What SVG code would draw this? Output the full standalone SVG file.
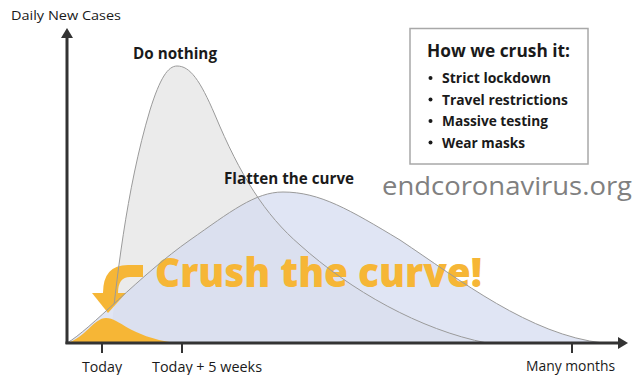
<svg xmlns="http://www.w3.org/2000/svg" width="633" height="375" viewBox="0 0 633 375">
<style>
  .lbl{font-family:"Open Sans","Noto Sans","Liberation Sans",sans-serif;fill:#1a1a1a}
  .b{font-weight:700}
  .ax{stroke:#333;stroke-width:3;fill:none}
  .tick{stroke:#333;stroke-width:2}
  .line{fill:none;stroke:#9a9a9a;stroke-width:1}
</style>
<defs>
  <mask id="hideLeft">
    <rect width="633" height="375" fill="#fff"/>
    <path d="M67,343 C90,330 140,275 190,240 L190,344 L67,344 Z" fill="#000"/>
  </mask>
</defs>
<rect width="633" height="375" fill="#ffffff"/>
<g id="curves">
  <path id="donothing-fill" d="M110,343 C116,285 126,190 150,110 C160,78 168,66 177,66 C190,66 200,80 215,115 C240,175 265,215 300,245 C350,290 420,330 487,343 Z" fill="#ebebeb"/>
  <path id="flatten-fill" d="M67,343 C90,330 140,275 190,240 C230,212 255,192 283,192 C320,192 350,210 400,240 C460,280 530,335 603,343 Z" fill="#d5dcf0" fill-opacity="0.75"/>
  <path id="crush-fill" d="M67,343 C85,338 94,318 106,318 C120,318 128,336 175,343 Z" fill="#f6b636"/>
</g>
<g id="crush-arrow" fill="#f6b636">
  <path d="M143,265 L128,265 Q103,265 103,293 L118,293 Q118,277 130,277 L143,277 Z"/>
  <path d="M92,293 L126,293 L108,313 Z"/>
</g>
<g id="crush-label">
  <text x="155" y="287" font-family="'Open Sans','Noto Sans','Liberation Sans',sans-serif" font-weight="800" font-size="41" fill="#f6b636" textLength="327" lengthAdjust="spacingAndGlyphs">Crush the curve!</text>
</g>
<g id="curve-lines">
  <path class="line" mask="url(#hideLeft)" d="M110,343 C116,285 126,190 150,110 C160,78 168,66 177,66 C190,66 200,80 215,115 C240,175 265,215 300,245 C350,290 420,330 487,343"/>
  <path class="line" d="M67,343 C90,330 140,275 190,240 C230,212 255,192 283,192 C320,192 350,210 400,240 C460,280 530,335 603,343"/>
</g>
<g id="connectors">
  <line class="ax" x1="67" y1="36" x2="67" y2="344"/>
  <line class="ax" x1="65.5" y1="343" x2="619" y2="343"/>
  <polygon points="67,28 61,38 73,38" fill="#333"/>
  <polygon points="628,343 618,337 618,349" fill="#333"/>
  <line class="tick" x1="102" y1="343" x2="102" y2="353"/>
  <line class="tick" x1="182" y1="343" x2="182" y2="353"/>
  <line class="tick" x1="572" y1="343" x2="572" y2="353"/>
</g>
<g id="axis-labels">
  <text class="lbl" x="11" y="20" font-size="13.5" textLength="110" lengthAdjust="spacingAndGlyphs">Daily New Cases</text>
  <text class="lbl" x="82" y="372" font-size="14" textLength="40" lengthAdjust="spacingAndGlyphs">Today</text>
  <text class="lbl" x="152" y="372" font-size="14" textLength="110" lengthAdjust="spacingAndGlyphs">Today + 5 weeks</text>
  <text class="lbl" x="526" y="371" font-size="14" textLength="89" lengthAdjust="spacingAndGlyphs">Many months</text>
</g>
<g id="do-nothing-label">
  <text class="lbl b" x="133" y="59" font-size="15.5" textLength="84" lengthAdjust="spacingAndGlyphs">Do nothing</text>
</g>
<g id="flatten-label">
  <text class="lbl b" x="224" y="184" font-size="15.5" textLength="130" lengthAdjust="spacingAndGlyphs">Flatten the curve</text>
</g>
<g id="how-box">
  <rect x="410" y="28.5" width="178" height="135.5" fill="#ffffff" stroke="#a8a8a8" stroke-width="1.5"/>
  <text class="lbl b" x="427" y="57" font-size="18.5" textLength="143" lengthAdjust="spacingAndGlyphs">How we crush it:</text>
  <g fill="#1a1a1a">
    <circle cx="430.5" cy="78" r="2"/>
    <circle cx="430.5" cy="99.5" r="2"/>
    <circle cx="430.5" cy="121" r="2"/>
    <circle cx="430.5" cy="142.5" r="2"/>
  </g>
  <text class="lbl b" x="442" y="83" font-size="15" textLength="109" lengthAdjust="spacingAndGlyphs">Strict lockdown</text>
  <text class="lbl b" x="442" y="104.5" font-size="15" textLength="126" lengthAdjust="spacingAndGlyphs">Travel restrictions</text>
  <text class="lbl b" x="442" y="126" font-size="15" textLength="106" lengthAdjust="spacingAndGlyphs">Massive testing</text>
  <text class="lbl b" x="442" y="147.5" font-size="15" textLength="83" lengthAdjust="spacingAndGlyphs">Wear masks</text>
</g>
<g id="watermark">
  <text x="382" y="195" font-family="'Open Sans','Noto Sans','Liberation Sans',sans-serif" font-size="25" fill="#808080" textLength="250" lengthAdjust="spacingAndGlyphs">endcoronavirus.org</text>
</g>
</svg>
